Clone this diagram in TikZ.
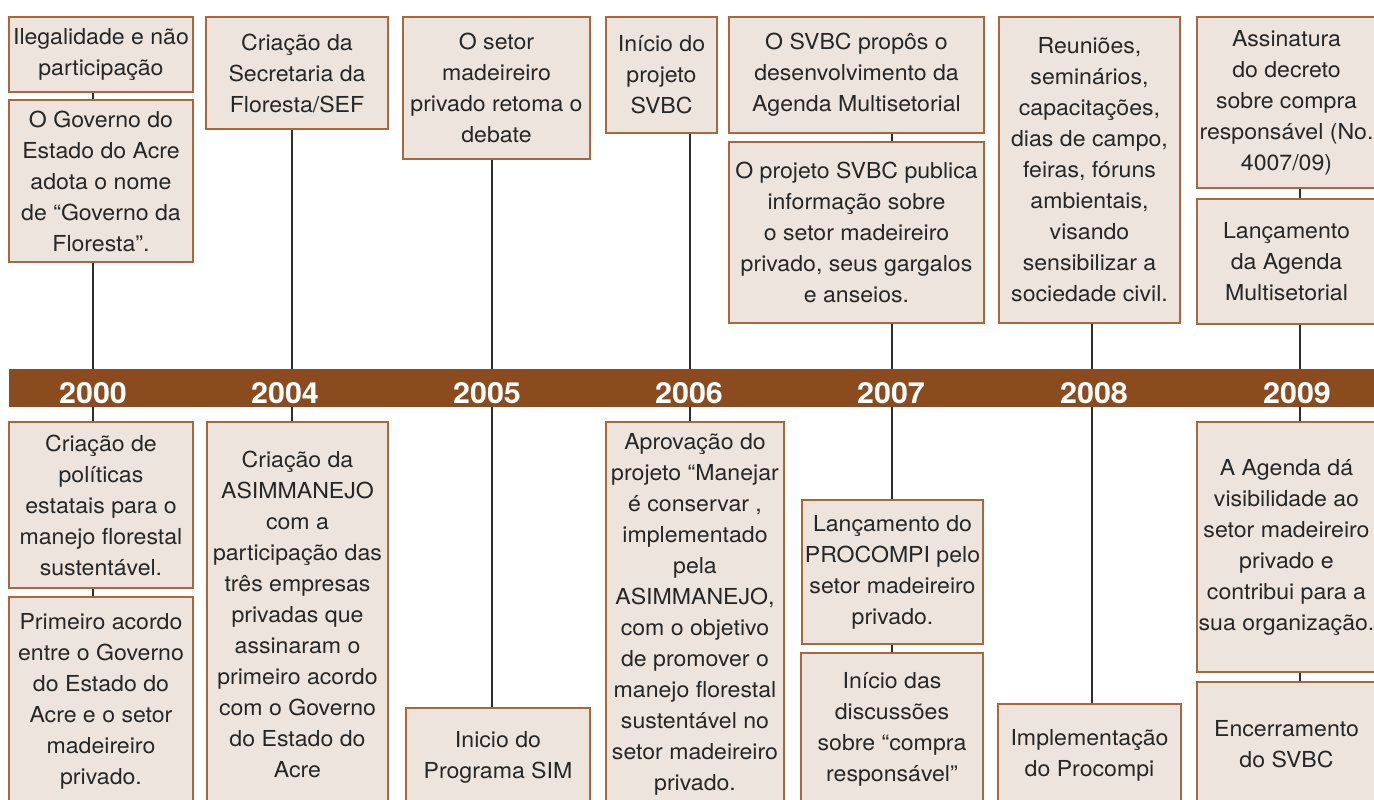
\documentclass[tikz,border=0pt]{standalone}
\usepackage{fontspec}
\setmainfont{TeX Gyre Heros}[FakeStretch=1.05]
\usetikzlibrary{backgrounds}

\definecolor{barBrown}{HTML}{8A4B1F}
\definecolor{boxFill}{HTML}{EDE4DD}
\definecolor{boxEdge}{HTML}{A8683C}
\definecolor{lineGray}{HTML}{2E2E2E}
\definecolor{textGray}{HTML}{262626}

\begin{document}
\begin{tikzpicture}
[x=0.5pt, y=-0.5pt,
  eventBox/.style={draw=boxEdge, fill=boxFill, line width=0.7pt, inner sep=0pt,
    align=center, text=textGray, font=\fontsize{11}{15.5}\selectfont},%
  boxSize/.style 2 args={minimum width=#1*0.5pt, minimum height=#2*0.5pt},%
  yearLabel/.style={anchor=base, text=white, font=\bfseries\fontsize{14.5}{16}\selectfont},%
  yearLine/.style={-, line width=1.2pt, draw=lineGray}]
\useasboundingbox (0,0) rectangle (1374,799);
\clip (0,0) rectangle (1374,799);

%% years on the bar
\foreach \yr/\lx/\tx in {
  2000/93/93, 2004/292/285, 2005/492/487, 2006/690/689,
  2007/892/891, 2008/1092/1094, 2009/1300/1297}
{
  \coordinate (l\yr) at (\lx,388);
  \node (y\yr) at (\tx,403) [yearLabel] {\yr};
}

%% events above the bar
\node (t2000a) at (101,54.5) [eventBox, boxSize={184}{75}] {Ilegalidade e não\\participação};
\node (t2000b) at (101,181) [eventBox, boxSize={184}{162}] {O Governo do\\Estado do Acre\\adota o nome\\de “Governo da\\Floresta”.};
\node (t2004a) at (297,73) [eventBox, boxSize={182}{112}] {Criação da\\Secretaria da\\Floresta/SEF};
\node (t2005a) at (496.5,88) [eventBox, boxSize={187}{142}] {O setor\\madeireiro\\privado retoma o\\debate};
\node (t2006a) at (661.5,75) [eventBox, boxSize={111}{116}] {Início do\\projeto\\SVBC};
\node (t2007a) at (856.5,75) [eventBox, boxSize={255}{116}] {O SVBC propôs o\\desenvolvimento da\\Agenda Multisetorial};
\node (t2007b) at (856.5,232.5) [eventBox, boxSize={255}{181}] {O projeto SVBC publica\\informação sobre\\o setor madeireiro\\privado, seus gargalos\\e anseios.};
\node (t2008a) at (1089.5,170) [eventBox, boxSize={181}{306}] {Reuniões,\\seminários,\\capacitações,\\dias de campo,\\feiras, fóruns\\ambientais,\\visando\\sensibilizar a\\sociedade civil.};
\node (t2009a) at (1286.5,102.5) [eventBox, boxSize={179}{171}] {Assinatura\\do decreto\\sobre compra\\responsável (No.\\4007/09)};
\node (t2009b) at (1286.5,261.5) [eventBox, boxSize={179}{125}] {Lançamento\\da Agenda\\Multisetorial};

%% events below the bar
\node (b2000a) at (101,505) [eventBox, boxSize={184}{166}] {Criação de\\políticas\\estatais para o\\manejo florestal\\sustentável.};
\node (b2000b) at (101,701.5) [eventBox, boxSize={184}{209}] {Primeiro acordo\\entre o Governo\\do Estado do\\Acre e o setor\\madeireiro\\privado.};
\node (b2004a) at (297.5,614) [eventBox, boxSize={181}{384}] {Criação da\\ASIMMANEJO\\com a\\participação das\\três empresas\\privadas que\\assinaram o\\primeiro acordo\\com o Governo\\do Estado do\\Acre};
\node (b2005a) at (498,757) [eventBox, boxSize={184}{98}] {Inicio do\\Programa SIM};
\node (b2006a) at (695,614) [eventBox, boxSize={178}{384}] {Aprovação do\\projeto “Manejar\\é conservar ,\\implementado\\pela\\ASIMMANEJO,\\com o objetivo\\de promover o\\manejo florestal\\sustentável no\\setor madeireiro\\privado.};
\node (b2007a) at (892.5,572) [eventBox, boxSize={181}{144}] {Lançamento do\\PROCOMPI pelo\\setor madeireiro\\privado.};
\node (b2007b) at (892,729.5) [eventBox, boxSize={182}{153}] {Início das\\discussões\\sobre “compra\\responsável”};
\node (b2008a) at (1089.5,755) [eventBox, boxSize={183}{102}] {Implementação\\do Procompi};
\node (b2009a) at (1286.5,547) [eventBox, boxSize={179}{250}] {A Agenda dá\\visibilidade ao\\setor madeireiro\\privado e\\contribui para a\\sua organização.};
\node (b2009b) at (1286.5,744) [eventBox, boxSize={179}{124}] {Encerramento\\do SVBC};

%% year lines and the bar behind the boxes
\begin{scope}[on background layer]
\path
\foreach \startnode/\endnode/\yr in {
  t2000a/t2000b/2000, t2000b/b2000a/2000, b2000a/b2000b/2000,
  t2004a/b2004a/2004, t2005a/b2005a/2005, t2006a/b2006a/2006,
  t2007a/t2007b/2007, t2007b/b2007a/2007, b2007a/b2007b/2007,
  t2008a/b2008a/2008,
  t2009a/t2009b/2009, t2009b/b2009a/2009, b2009a/b2009b/2009}
{
  (\startnode.south -| l\yr) edge[yearLine] (\endnode.north -| l\yr)
};
\fill[barBrown] (9,369) rectangle (1374,407);
\end{scope}
\end{tikzpicture}
\end{document}
